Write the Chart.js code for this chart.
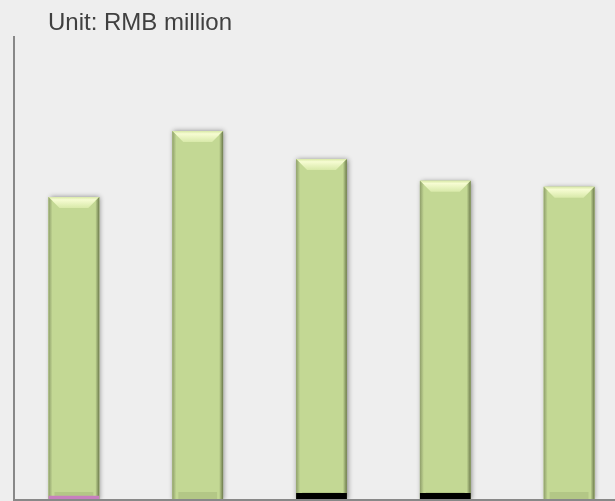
<!DOCTYPE html>
<html>
<head>
<meta charset="utf-8">
<script src="https://cdn.jsdelivr.net/npm/chart.js@4.4.0/dist/chart.umd.min.js"></script>
<style>
  html, body { margin: 0; padding: 0; background: #eeeeee; overflow: hidden; }
  #wrap { width: 631px; height: 501px; position: relative; }
</style>
</head>
<body>
<div id="wrap"><canvas id="chart"></canvas></div>
<script>
// values (RMB million, relative scale)
const categories = ['1', '2', '3', '4', '5'];
const mainValues = [65.3, 79.5, 73.5, 68.8, 67.5];
const smallValues = [0.9, 0, 1.5, 1.5, 0];
const smallColors = ['#c77fbf', '#c77fbf', '#000000', '#000000', '#000000'];
const unitLabel = 'Unit: RMB million';

// bevel look for the green bars, drawn on the bar elements the library placed
const bevelPlugin = {
    id: 'bevel',
    beforeDatasetDraw(chart, args) {
        if (args.index !== 1) return;
        const ctx = chart.ctx;
        ctx.save();
        ctx.shadowColor = 'rgba(0,0,0,0.45)';
        ctx.shadowBlur = 5;
        ctx.shadowOffsetX = 1;
        ctx.shadowOffsetY = 0;
        ctx.fillStyle = '#c3d894';
        args.meta.data.forEach(bar => {
            const w = bar.width;
            ctx.fillRect(bar.x - w / 2, bar.y, w, bar.base - bar.y);
        });
        ctx.restore();
    },
    afterDatasetDraw(chart, args) {
        if (args.index !== 1) return;
        const ctx = chart.ctx;
        const bt = 11, bs = 4;
        ctx.save();
        args.meta.data.forEach(bar => {
            const l = bar.x - bar.width / 2;
            const r = bar.x + bar.width / 2;
            const t = bar.y;
            const bot = bar.base;

            // top facet
            let g = ctx.createLinearGradient(0, t, 0, t + bt);
            g.addColorStop(0, '#d9e9a8');
            g.addColorStop(0.25, '#f6fcd2');
            g.addColorStop(1, '#d8e9a9');
            ctx.fillStyle = g;
            ctx.beginPath();
            ctx.moveTo(l, t); ctx.lineTo(r, t); ctx.lineTo(r - bt, t + bt); ctx.lineTo(l + bt, t + bt);
            ctx.closePath(); ctx.fill();

            // left facet
            g = ctx.createLinearGradient(l, 0, l + bs, 0);
            g.addColorStop(0, '#8f9f6b');
            g.addColorStop(1, '#c3d894');
            ctx.fillStyle = g;
            ctx.beginPath();
            ctx.moveTo(l, t); ctx.lineTo(l + bs, t + bs); ctx.lineTo(l + bs, bot); ctx.lineTo(l, bot);
            ctx.closePath(); ctx.fill();

            // right facet
            g = ctx.createLinearGradient(r - bs, 0, r, 0);
            g.addColorStop(0, '#c3d894');
            g.addColorStop(1, '#6c7a4c');
            ctx.fillStyle = g;
            ctx.beginPath();
            ctx.moveTo(r, t); ctx.lineTo(r - bs, t + bs); ctx.lineTo(r - bs, bot); ctx.lineTo(r, bot);
            ctx.closePath(); ctx.fill();

            // soft bottom hint
            ctx.fillStyle = 'rgba(150,170,110,0.35)';
            ctx.fillRect(l + 6, bot - 8, bar.width - 12, 8);
        });
        ctx.restore();
    }
};

const axisPlugin = {
    id: 'axisLines',
    afterDraw(chart) {
        const ctx = chart.ctx;
        const a = chart.chartArea;
        const x0 = a.left + 2;
        ctx.save();
        ctx.strokeStyle = '#888888';
        ctx.lineWidth = 2;
        ctx.beginPath();
        ctx.moveTo(x0, a.top);
        ctx.lineTo(x0, a.bottom);
        ctx.lineTo(chart.width, a.bottom);
        ctx.stroke();
        ctx.fillStyle = '#404040';
        ctx.font = '24px "Liberation Sans", Arial, sans-serif';
        ctx.textBaseline = 'middle';
        ctx.fillText(unitLabel, 48, 23);
        ctx.restore();
    }
};

new Chart(document.getElementById('chart'), {
    type: 'bar',
    data: {
        labels: categories,
        datasets: [{
            label: 'Other',
            data: smallValues,
            backgroundColor: smallColors,
            barPercentage: 0.41,
            categoryPercentage: 1
        }, {
            label: 'Main',
            data: mainValues,
            backgroundColor: '#c3d894',
            barPercentage: 0.41,
            categoryPercentage: 1
        }]
    },
    options: {
        responsive: true,
        maintainAspectRatio: false,
        animation: false,
        layout: { padding: { left: 12, top: 36, right: 0, bottom: 1 } },
        plugins: { legend: { display: false }, tooltip: { enabled: false } },
        scales: {
            x: { display: false, stacked: true },
            y: { display: false, stacked: false, min: 0, max: 100 }
        }
    },
    plugins: [bevelPlugin, axisPlugin]
});
</script>
</body>
</html>
